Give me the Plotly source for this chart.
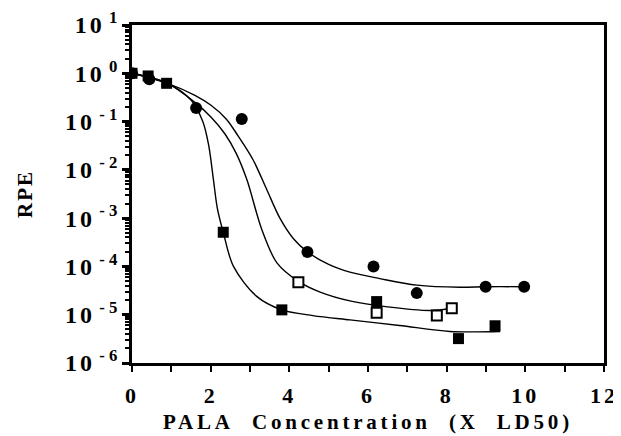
import plotly.graph_objects as go

# Data
circ_x = [0.0, 0.44, 1.63, 2.79, 4.46, 6.14, 7.24, 8.99, 9.97]
circ_y = [1.0, 0.75, 0.19, 0.113, 2.0e-4, 1.0e-4, 2.8e-5, 3.8e-5, 3.8e-5]

fsq_x = [0.0, 0.41, 0.88, 2.32, 3.81, 6.22, 8.30, 9.23]
fsq_y = [1.0, 0.88, 0.62, 5.1e-4, 1.26e-5, 1.87e-5, 3.2e-6, 5.9e-6]

osq_x = [4.23, 6.22, 7.75, 8.13]
osq_y = [4.7e-5, 1.1e-5, 9.6e-6, 1.36e-5]

# Fitted curves
c1_x = [0.0, 0.9, 1.6, 2.0, 2.4, 2.7, 3.08, 3.42, 3.76, 4.1, 4.46, 5.0, 5.54, 6.3, 7.24, 8.34, 8.99, 9.97]
c1_y = [1.0, 0.62, 0.35, 0.22, 0.112, 0.05, 0.016, 0.004, 1.0e-3, 3.8e-4, 2.0e-4, 1.1e-4, 7.6e-5, 5.6e-5, 4.1e-5, 3.7e-5, 3.8e-5, 3.8e-5]

c2_x = [0.0, 0.9, 1.6, 2.0, 2.36, 2.65, 2.92, 3.3, 3.68, 4.23, 4.8, 5.54, 6.5, 7.58, 8.13]
c2_y = [1.0, 0.62, 0.25, 0.126, 0.056, 0.022, 0.0063, 5.8e-4, 1.2e-4, 4.9e-5, 2.9e-5, 1.93e-5, 1.45e-5, 1.22e-5, 1.36e-5]

c3_x = [0.0, 0.9, 1.5, 1.8, 1.95, 2.07, 2.17, 2.32, 2.58, 3.17, 3.81, 4.6, 5.54, 6.8, 8.08, 9.36]
c3_y = [1.0, 0.62, 0.28, 0.1, 0.032, 0.0063, 0.0016, 5.1e-4, 1.0e-4, 2.4e-5, 1.26e-5, 9.6e-6, 7.8e-6, 6.0e-6, 4.5e-6, 4.5e-6]

x_ticks = [0, 2, 4, 6, 8, 10, 12]
y_tickvals = [1e1, 1e0, 1e-1, 1e-2, 1e-3, 1e-4, 1e-5, 1e-6]
y_exponents = ["1", "0", "- 1", "- 2", "- 3", "- 4", "- 5", "- 6"]

LS = "letter-spacing:3px"
x_ticktext = [f"<b><span style='{LS}'>{v}</span></b>" for v in x_ticks]
y_ticktext = [f"<b><span style='{LS}'>10</span><sup> {e}</sup></b>" for e in y_exponents]

fig = go.Figure()
line_style = dict(color="black", width=1.4, shape="spline", smoothing=0.9)
for cx, cy in [(c1_x, c1_y), (c2_x, c2_y), (c3_x, c3_y)]:
    fig.add_trace(go.Scatter(x=cx, y=cy, mode="lines", line=line_style,
                             hoverinfo="skip", showlegend=False))

fig.add_trace(go.Scatter(x=osq_x, y=osq_y, mode="markers", showlegend=False,
                         marker=dict(symbol="square", size=10, color="white",
                                     line=dict(color="black", width=2))))
fig.add_trace(go.Scatter(x=fsq_x, y=fsq_y, mode="markers", showlegend=False,
                         marker=dict(symbol="square", size=11, color="black",
                                     line=dict(width=0))))
fig.add_trace(go.Scatter(x=circ_x, y=circ_y, mode="markers", showlegend=False,
                         marker=dict(symbol="circle", size=12, color="black",
                                     line=dict(width=0))))

font_serif = "Liberation Serif, Times New Roman, serif"
fig.update_layout(
    width=613, height=428,
    margin=dict(l=124, r=17, t=17, b=73),
    paper_bgcolor="white", plot_bgcolor="white",
    font=dict(family=font_serif, color="black"),
    xaxis=dict(
        range=[0, 12], tickmode="array", tickvals=x_ticks, ticktext=x_ticktext,
        ticks="outside", ticklen=6, tickwidth=2, tickcolor="black",
        minor=dict(dtick=1, ticks="outside", ticklen=6, tickwidth=2, tickcolor="black"),
        showline=True, linecolor="black", linewidth=2.5, mirror=True,
        showgrid=False, zeroline=False, automargin=False,
        ticklabelstandoff=5,
        tickfont=dict(size=22, family=font_serif),
        title=dict(text="<b><span style='letter-spacing:3.8px'>PALA&nbsp; Concentration&nbsp; (X&nbsp; LD50)</span></b>",
                   font=dict(size=21, family=font_serif), standoff=8),
    ),
    yaxis=dict(
        type="log", range=[-6, 1], tickmode="array", tickvals=y_tickvals,
        ticktext=y_ticktext,
        ticks="outside", ticklen=7, tickwidth=2.5, tickcolor="black",
        minor=dict(ticks="outside", ticklen=4, tickwidth=1.5, tickcolor="black", dtick="D1"),
        showline=True, linecolor="black", linewidth=2.5, mirror=True,
        showgrid=False, zeroline=False, automargin=False,
        tickfont=dict(size=24, family=font_serif),
        title=dict(text="<b><span style='letter-spacing:2px'>RPE</span></b>",
                   font=dict(size=21, family=font_serif), standoff=27),
    ),
)

fig.write_html("out.html")
